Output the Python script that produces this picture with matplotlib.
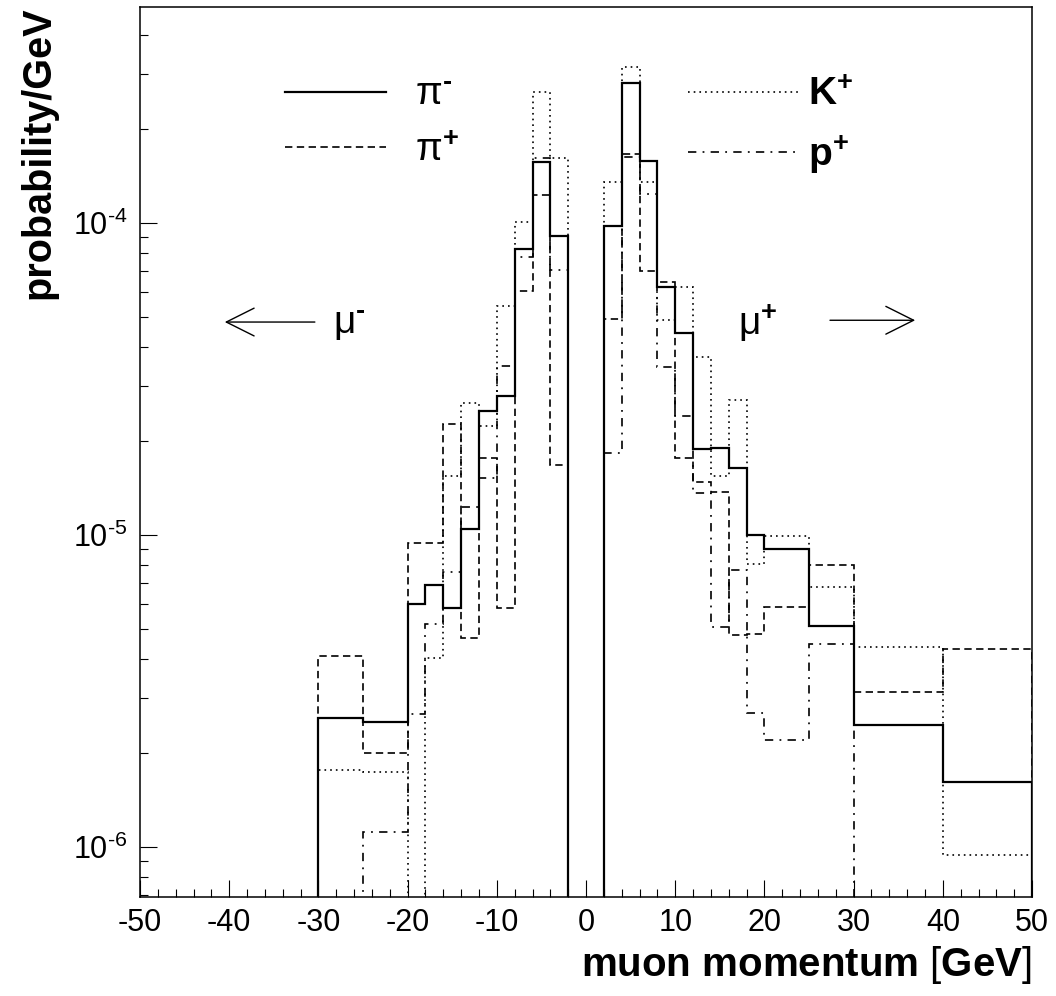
import numpy as np
import matplotlib.pyplot as plt
from matplotlib.ticker import MultipleLocator, LogLocator, FixedLocator, FuncFormatter, NullFormatter
from matplotlib.lines import Line2D

plt.rcParams['font.family'] = ['Liberation Sans', 'DejaVu Sans']
plt.rcParams['mathtext.fontset'] = 'custom'
plt.rcParams['mathtext.rm'] = 'Liberation Sans'
plt.rcParams['mathtext.it'] = 'Liberation Sans:italic'
plt.rcParams['mathtext.bf'] = 'Liberation Sans:bold'
plt.rcParams['axes.unicode_minus'] = False
plt.rcParams['lines.scale_dashes'] = False

###############################################################################
# histogram contents (probability/GeV), bin -2..2 is empty
###############################################################################

edges = [-30, -25, -20, -18, -16, -14, -12, -10, -8, -6, -4, -2,
         2, 4, 6, 8, 10, 12, 14, 16, 18, 20, 25, 30, 40, 50]

pi_minus = [2.60e-6, 2.52e-6, 6.0e-6, 6.9e-6, 5.85e-6, 1.045e-5, 2.49e-5, 2.79e-5,
            8.25e-5, 1.57e-4, 9.1e-5, 0,
            9.8e-5, 2.80e-4, 1.58e-4, 6.22e-5, 4.45e-5, 1.89e-5, 1.90e-5, 1.64e-5,
            1.0e-5, 9.0e-6, 5.1e-6, 2.46e-6, 1.62e-6]

pi_plus = [4.09e-6, 2.0e-6, 9.45e-6, 9.45e-6, 2.26e-5, 4.67e-6, 1.77e-5, 5.82e-6,
           6.07e-5, 1.23e-4, 1.68e-5, 0,
           4.91e-5, 1.66e-4, 7.03e-5, 6.48e-5, 1.76e-5, 1.48e-5, 1.37e-5, 4.78e-6,
           4.80e-6, 5.86e-6, 8.01e-6, 3.13e-6, 4.31e-6]

k_plus = [1.76e-6, 1.74e-6, 0, 4.04e-6, 1.55e-5, 2.64e-5, 2.24e-5, 5.42e-5,
          1.01e-4, 2.62e-4, 1.62e-4, 0,
          1.35e-4, 3.17e-4, 1.35e-4, 4.87e-5, 6.22e-5, 3.73e-5, 1.55e-5, 2.71e-5,
          8.07e-6, 9.93e-6, 6.83e-6, 4.39e-6, 9.43e-7]

p_plus = [0, 1.12e-6, 2.66e-6, 5.19e-6, 7.59e-6, 1.23e-5, 1.52e-5, 3.48e-5,
          7.80e-5, 1.62e-4, 7.07e-5, 0,
          1.83e-5, 1.63e-4, 1.24e-4, 3.46e-5, 2.41e-5, 1.36e-5, 5.09e-6, 7.72e-6,
          2.68e-6, 2.20e-6, 4.47e-6, 0, 0]

# line styles (ROOT-like: solid, dashed, dotted, dash-dotted)
solid = dict(color='black', lw=1.6, ls='-')
dashed = dict(color='black', lw=1.2, ls=(0, (5.3, 3.2)))
dotted = dict(color='black', lw=1.2, ls=(0, (1.2, 2.9)))
dashdot = dict(color='black', lw=1.2, ls=(0, (6, 4.5, 1.3, 4.5)))

HYPH = '\u2010'   # short bar for minus signs in superscripts

###############################################################################

def decade_label(v, pos):
    """10^n tick label with a short minus in the exponent"""
    n = int(round(np.log10(v)))
    exp = ('%d' % n).replace('-', HYPH)
    return r'$\mathrm{10^{%s}}$' % exp

fig = plt.figure(figsize=(10.56, 9.96), dpi=100)
ax = fig.add_axes([0.1326, 0.0994, 0.8447, 0.8936])
ax.set_yscale('log', nonpositive='clip')

ax.stairs(pi_minus, edges, baseline=0, **solid)
ax.stairs(pi_plus, edges, baseline=0, **dashed)
ax.stairs(k_plus, edges, baseline=0, **dotted)
ax.stairs(p_plus, edges, baseline=0, **dashdot)

ax.set_xlim(-50, 50)
ax.set_ylim(6.92e-7, 4.92e-4)

#axes and ticks
for s in ax.spines.values():
    s.set_linewidth(1.1)
ax.xaxis.set_major_locator(MultipleLocator(10))
ax.xaxis.set_minor_locator(MultipleLocator(2))
ax.yaxis.set_major_locator(FixedLocator([1e-6, 1e-5, 1e-4]))
ax.yaxis.set_minor_locator(LogLocator(base=10, subs=np.arange(2, 10)))
ax.yaxis.set_minor_formatter(NullFormatter())
ax.yaxis.set_major_formatter(FuncFormatter(decade_label))
ax.xaxis.set_major_formatter(FuncFormatter(lambda v, pos: '%d' % v))
ax.tick_params(which='both', direction='in', top=False, right=False,
               width=0.8, labelsize=22)
ax.tick_params(which='major', length=12.5)
ax.tick_params(which='minor', length=6)
ax.tick_params(axis='x', pad=8)
ax.tick_params(axis='y', pad=9)

ax.set_xlabel(r'$\mathbf{muon\ momentum}\ [\mathbf{GeV}]$', fontsize=29,
              loc='right', labelpad=4)
ax.set_ylabel('probability/GeV', fontsize=28.5, fontweight='bold',
              loc='top', labelpad=11)

#legend, pions on the left and K+/p+ on the right
h_pi = [Line2D([], [], **solid), Line2D([], [], **dashed)]
leg1 = ax.legend(h_pi, [r'$\mathrm{π}^{\mathbf{%s}}$' % HYPH, r'$\mathrm{π}^{\mathbf{+}}$'],
                 loc='upper left', bbox_to_anchor=(0.162, 0.921), frameon=False,
                 fontsize=28, handlelength=2.6, handletextpad=0.75,
                 labelspacing=0.5, borderpad=0, borderaxespad=0)
ax.add_artist(leg1)
h_kp = [Line2D([], [], **dotted), Line2D([], [], **dashdot)]
ax.legend(h_kp, [r'$\mathbf{K^{+}}$', r'$\mathbf{p^{+}}$'],
          loc='upper left', bbox_to_anchor=(0.614, 0.921), frameon=False,
          fontsize=28, handlelength=2.9, handletextpad=0.2,
          labelspacing=0.5, borderpad=0, borderaxespad=0)

#charge regions
arrow = dict(arrowstyle='->,head_length=1.0,head_width=0.5', lw=1.0,
             color='black', mutation_scale=20, shrinkA=0, shrinkB=0)
ax.annotate('', xy=(0.095, 0.646), xytext=(0.196, 0.646),
            xycoords='axes fraction', arrowprops=arrow)
ax.annotate('', xy=(0.869, 0.648), xytext=(0.7735, 0.648),
            xycoords='axes fraction', arrowprops=arrow)
ax.text(0.2165, 0.643, r'$\mathrm{μ}^{\mathbf{%s}}$' % HYPH, transform=ax.transAxes,
        fontsize=28, va='center', ha='left')
ax.text(0.670, 0.645, r'$\mathrm{μ}^{\mathbf{+}}$', transform=ax.transAxes,
        fontsize=28, va='center', ha='left')

fig.savefig('out.png', dpi=100)
